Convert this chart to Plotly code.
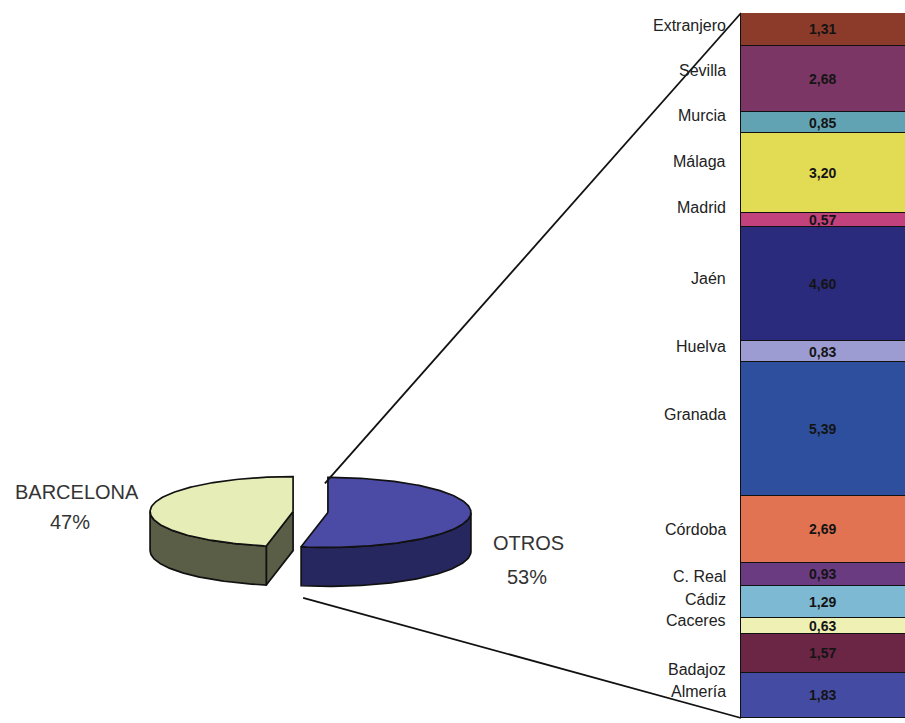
import numpy as np
import plotly.graph_objects as go

# ---------------- data ----------------
pie_labels = ["OTROS", "BARCELONA"]
pie_pct = [53, 47]

regions = ["Almería", "Badajoz", "Caceres", "Cádiz", "C. Real", "Córdoba", "Granada",
           "Huelva", "Jaén", "Madrid", "Málaga", "Murcia", "Sevilla", "Extranjero"]
values = [1.83, 1.57, 0.63, 1.29, 0.93, 2.69, 5.39, 0.83, 4.60, 0.57, 3.20, 0.85, 2.68, 1.31]

# ---------------- styles ----------------
bar_colors = ["#444ba2", "#6b2646", "#eef0b4", "#7db9d2", "#6a3b80", "#e27352", "#2d4f9d",
              "#9c9cd2", "#2b2b7e", "#c2427e", "#e2dc55", "#62a3b3", "#7b3666", "#8c3b2b"]
label_nudge = [4, -16, 5, 2, -2, 0, 14, 5, 6, 12, 12, 7, 8, 4]   # px, label offsets

pie_top = {"OTROS": "#4b4ba6", "BARCELONA": "#e7edb6"}
pie_side = {"OTROS": "#26275f", "BARCELONA": "#5a5e47"}
FONT = "Liberation Sans, Arial, sans-serif"

W, H = 905, 723
A, B, DEPTH = 143, 35, 39          # ellipse radii and thickness (px)
C0 = (310.5, 512.0)                # pie centre (px)
EXPLODE = 17.5

BAR_LEFT_PX, BAR_TOP_PX, BAR_BOT_PX = 739, 13, 718
XR2 = [-0.51, 0.30]

fig = go.Figure()


def rim(cx, cy, th, dz=0.0):
    return cx + A * np.sin(th), cy - B * np.cos(th) + dz


def poly(xs, ys, color):
    fig.add_trace(go.Scatter(x=list(xs) + [xs[0]], y=list(ys) + [ys[0]], mode="lines",
                             fill="toself", fillcolor=color,
                             line=dict(color="#111111", width=1.7),
                             hoverinfo="skip", showlegend=False, xaxis="x", yaxis="y"))


# ---- pie geometry from percentages ----
total_pct = sum(pie_pct)
starts, ends = [], []
acc = 0.0
for p in pie_pct:
    starts.append(acc / total_pct * 2 * np.pi)
    acc += p
    ends.append(acc / total_pct * 2 * np.pi)

centres = []
for s, e in zip(starts, ends):
    mid = (s + e) / 2
    centres.append((C0[0] + EXPLODE * np.sin(mid), C0[1] - EXPLODE * (B / A) * np.cos(mid)))

# sides and radial faces first
order = sorted(range(len(pie_labels)), key=lambda i: -np.cos((starts[i] + ends[i]) / 2))
for i in order:
    lab = pie_labels[i]
    cx, cy = centres[i]
    s, e = starts[i], ends[i]
    for edge, normal in ((s, s - np.pi / 2), (e, e + np.pi / 2)):
        if np.cos(normal) < -1e-6:
            x1, y1 = rim(cx, cy, edge)
            xs = [cx, x1, x1, cx]
            ys = [cy, y1, y1 + DEPTH, cy + DEPTH]
            poly(xs, ys, pie_side[lab])
    vs, ve = max(s, np.pi / 2), min(e, 1.5 * np.pi)
    if ve > vs:
        th = np.linspace(vs, ve, 80)
        xt, yt = rim(cx, cy, th)
        xb, yb = rim(cx, cy, th[::-1], DEPTH)
        poly(np.concatenate([xt, xb]), np.concatenate([yt, yb]), pie_side[lab])

# top faces
for i, lab in enumerate(pie_labels):
    cx, cy = centres[i]
    th = np.linspace(starts[i], ends[i], 160)
    xt, yt = rim(cx, cy, th)
    poly(np.concatenate([[cx], xt]), np.concatenate([[cy], yt]), pie_top[lab])

# ---- stacked bar ----
for reg, val, col in zip(regions, values, bar_colors):
    fig.add_trace(go.Bar(x=[0], y=[val], width=[1.0], name=reg, marker_color=col,
                         marker_line=dict(color="#111111", width=1.4),
                         hoverinfo="skip", showlegend=False, xaxis="x2", yaxis="y2"))

bar_total = sum(values)
y2_dom = [(H - BAR_BOT_PX) / H, (H - BAR_TOP_PX) / H]
x2_dom = [BAR_LEFT_PX / W, 1.0]

annotations = []
cum = 0.0
xmid = (XR2[0] + XR2[1]) / 2
for reg, val, nudge in zip(regions, values, label_nudge):
    mid = cum + val / 2
    cum += val
    annotations.append(dict(x=xmid, y=mid, xref="x2", yref="y2", showarrow=False,
                            text="<b>" + f"{val:.2f}".replace(".", ",") + "</b>",
                            font=dict(family=FONT, size=14, color="#141414"),
                            xanchor="center", yanchor="middle"))
    annotations.append(dict(x=728 / W, y=mid, xref="paper", yref="y2", showarrow=False,
                            text=reg, yshift=nudge,
                            font=dict(family=FONT, size=16, color="#222222"),
                            xanchor="right", yanchor="middle"))

# pie labels
pie_label_pos = {"BARCELONA": ((77, 492), (70, 522)), "OTROS": ((528, 543), (527, 577))}
for lab, p in zip(pie_labels, pie_pct):
    (nx, ny), (px, py) = pie_label_pos[lab]
    annotations.append(dict(x=nx, y=ny, xref="x", yref="y", text=lab, showarrow=False,
                            font=dict(family=FONT, size=20, color="#333333")))
    annotations.append(dict(x=px, y=py, xref="x", yref="y", text=f"{p}%", showarrow=False,
                            font=dict(family=FONT, size=20, color="#333333")))

# ---- leader lines from the OTROS slice to the bar corners ----
bar_left_x = BAR_LEFT_PX + (-0.5 - XR2[0]) / (XR2[1] - XR2[0]) * (W - BAR_LEFT_PX)
oi = pie_labels.index("OTROS")
ocx, ocy = centres[oi]
tx, ty = rim(ocx, ocy, starts[oi])
bx, by = rim(ocx, ocy, ends[oi], DEPTH)
fig.add_trace(go.Scatter(x=[tx - 3, bar_left_x], y=[ty + 6, BAR_TOP_PX], mode="lines",
                         line=dict(color="#111111", width=1.8), hoverinfo="skip",
                         showlegend=False, xaxis="x", yaxis="y"))
fig.add_trace(go.Scatter(x=[bx + 2, bar_left_x], y=[by + 12, BAR_BOT_PX], mode="lines",
                         line=dict(color="#111111", width=1.8), hoverinfo="skip",
                         showlegend=False, xaxis="x", yaxis="y"))

hidden = dict(visible=False, showgrid=False, zeroline=False, fixedrange=True)
fig.update_layout(
    width=W, height=H, margin=dict(l=0, r=0, t=0, b=0),
    paper_bgcolor="white", plot_bgcolor="rgba(0,0,0,0)",
    barmode="stack", bargap=0,
    xaxis=dict(domain=[0, 1], range=[0, W], **hidden),
    yaxis=dict(domain=[0, 1], range=[H, 0], **hidden),
    xaxis2=dict(domain=x2_dom, range=XR2, anchor="y2", **hidden),
    yaxis2=dict(domain=y2_dom, range=[0, bar_total], anchor="x2", **hidden),
    annotations=annotations,
    showlegend=False,
)

fig.write_html("out.html")
